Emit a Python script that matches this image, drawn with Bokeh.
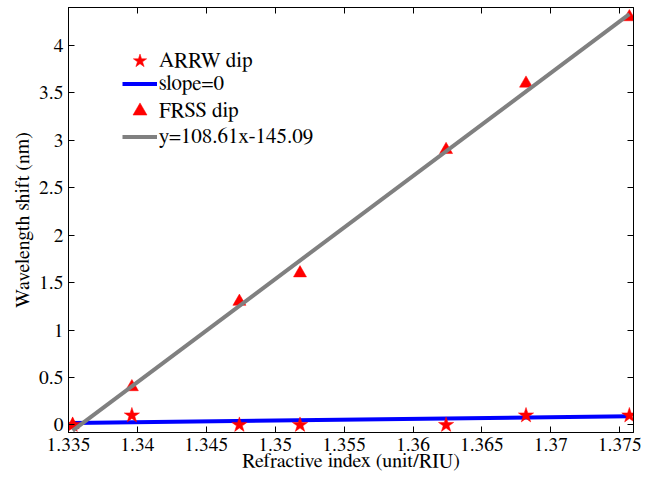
from bokeh.plotting import figure
from bokeh.models import Range1d, LinearAxis, FixedTicker, Legend, LegendItem
from bokeh.embed import file_html
from bokeh.resources import INLINE

# ---- data ----
n_index = [1.3353, 1.3396, 1.3474, 1.3518, 1.3624, 1.3682, 1.3757]
arrw_shift = [0.0, 0.1, 0.0, 0.0, 0.0, 0.1, 0.1]
frss_shift = [0.0, 0.4, 1.3, 1.6, 2.9, 3.6, 4.3]
slope0_x = [1.3353, 1.3757]
slope0_y = [0.02, 0.09]
fit_x = [1.3353, 1.3757]
fit_y = [-0.06, 4.33]
x_ticks = [1.335, 1.34, 1.345, 1.35, 1.355, 1.36, 1.365, 1.37, 1.375]
x_tick_labels = ["1.335", "1.34", "1.345", "1.35", "1.355", "1.36", "1.365", "1.37", "1.375"]
y_ticks = [0, 0.5, 1, 1.5, 2, 2.5, 3, 3.5, 4]
y_tick_labels = ["0", "0.5", "1", "1.5", "2", "2.5", "3", "3.5", "4"]
legend_labels = ["ARRW dip", "slope=0", "FRSS dip", "y=108.61x-145.09"]

FONT = "FreeSerif"
FRAME_H = 425

p = figure(width=658, height=482, output_backend="svg", toolbar_location=None,
           x_range=Range1d(1.335, 1.376), y_range=Range1d(-0.08, 4.4),
           min_border_left=68, min_border_right=25, min_border_top=7, min_border_bottom=50)
p.xgrid.visible = False
p.ygrid.visible = False
p.outline_line_color = "black"
p.outline_line_width = 1
p.background_fill_color = "white"
p.border_fill_color = "white"

def style_axis(ax, ticks, labels, show_labels=True):
    ax.ticker = FixedTicker(ticks=ticks)
    ax.minor_tick_line_color = None
    ax.major_tick_in = 6
    ax.major_tick_out = 0
    ax.major_tick_line_color = "black"
    ax.axis_line_color = "black"
    if show_labels:
        ax.major_label_overrides = {t: l for t, l in zip(ticks, labels)}
        ax.major_label_text_font = FONT
        ax.major_label_text_color = "black"
        ax.major_label_text_font_size = "19.5px"
    else:
        ax.major_label_text_font_size = "1px"
        ax.major_label_text_color = None
        ax.major_label_standoff = 0

xa = p.xaxis[0]
ya = p.yaxis[0]
style_axis(xa, x_ticks, x_tick_labels)
style_axis(ya, y_ticks, y_tick_labels)
xa.major_label_standoff = 5
ya.major_label_standoff = 5
xa.axis_label = "Refractive index (unit/RIU)"
ya.axis_label = "Wavelength shift (nm)"
for ax in (xa, ya):
    ax.axis_label_text_font = FONT
    ax.axis_label_text_font_size = "20px"
    ax.axis_label_text_font_style = "normal"
    ax.axis_label_text_color = "black"
xa.axis_label_standoff = -3
ya.axis_label_standoff = 3

top_ax = LinearAxis()
style_axis(top_ax, x_ticks, x_tick_labels, show_labels=False)
p.add_layout(top_ax, "above")
right_ax = LinearAxis()
style_axis(right_ax, y_ticks, y_tick_labels, show_labels=False)
p.add_layout(right_ax, "right")

# ---- glyphs ----
r_slope = p.line(slope0_x, slope0_y, line_color="#0000FF", line_width=4)
r_arrw = p.scatter(n_index, arrw_shift, marker="star", size=16,
                   fill_color="#FF0000", line_color="#FF0000", line_width=0.5)
r_frss = p.scatter(n_index, frss_shift, marker="triangle", size=13,
                   fill_color="#FF0000", line_color="#FF0000", line_width=0.5)
r_fit = p.line(fit_x, fit_y, line_color="#808080", line_width=4)

centers = [54, 77, 104, 130]  # entry centres, px below frame top
for lab, rend, cy in zip(legend_labels, [r_arrw, r_slope, r_frss, r_fit], centers):
    lg = Legend(items=[LegendItem(label=lab, renderers=[rend])],
                location=(54, FRAME_H - cy - 17))
    lg.background_fill_alpha = 0
    lg.border_line_color = None
    lg.padding = 0
    lg.margin = 0
    lg.glyph_width = 35
    lg.glyph_height = 35
    lg.label_height = 20
    lg.label_standoff = 2
    lg.label_text_font = FONT
    lg.label_text_font_size = "21px"
    lg.label_text_color = "black"
    p.add_layout(lg, "center")

open("out.html", "w").write(file_html(p, INLINE))
